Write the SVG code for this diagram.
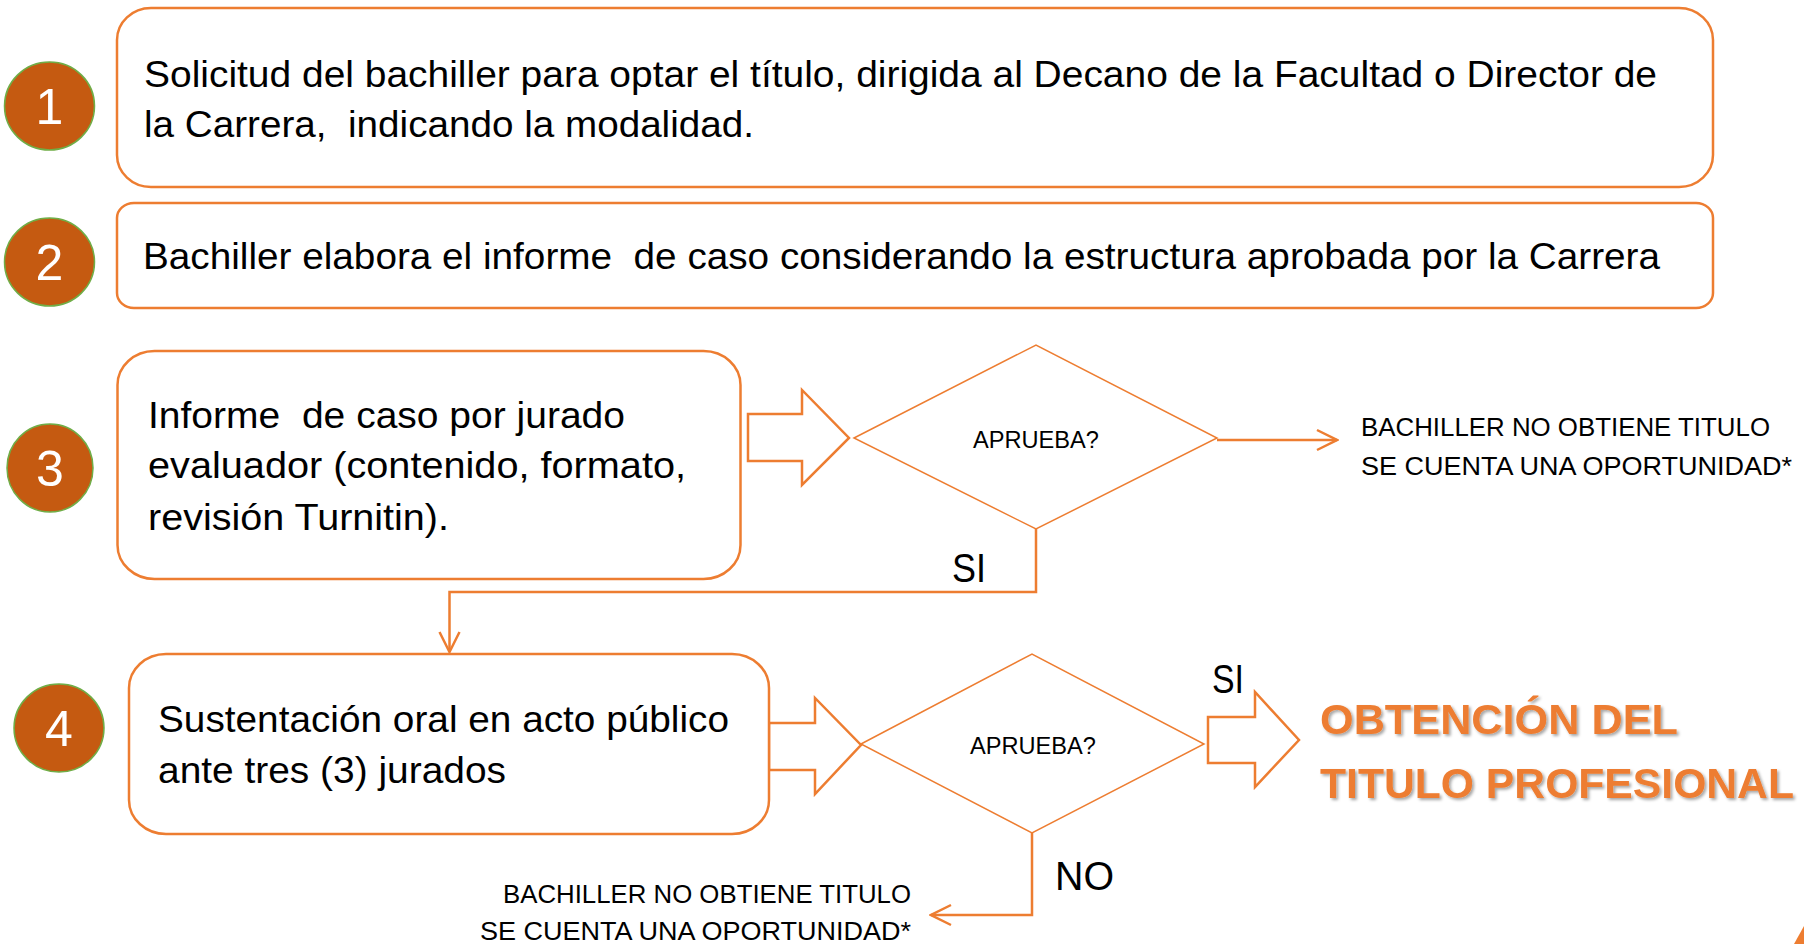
<svg xmlns="http://www.w3.org/2000/svg" width="1804" height="944" viewBox="0 0 1804 944">
<defs>
<style>
.box{fill:#fff;stroke:#ED7D31;stroke-width:2.5}
.dia{fill:#fff;stroke:#ED7D31;stroke-width:1.5}
.blk{fill:#fff;stroke:#ED7D31;stroke-width:2.5;stroke-linejoin:miter}
.con{fill:none;stroke:#ED7D31;stroke-width:2.5}
.num{fill:#C55A11;stroke:#70AD47;stroke-width:1.5}
.numt{font-family:"Liberation Sans",Arial,sans-serif;font-size:50px;fill:#fff;text-anchor:middle}
.t{font-family:"Liberation Sans",Arial,sans-serif;font-size:36px;fill:#000}
.s{font-family:"Liberation Sans",Arial,sans-serif;font-size:25px;fill:#000}
.q{font-family:"Liberation Sans",Arial,sans-serif;font-size:23px;fill:#000;text-anchor:middle}
.lbl{font-family:"Liberation Sans",Arial,sans-serif;font-size:41px;fill:#000}
.big{font-family:"Liberation Sans",Arial,sans-serif;font-size:43px;font-weight:bold;fill:#ED7D31}
</style>
<marker id="open" viewBox="0 0 24 24" markerWidth="24" markerHeight="24" refX="22" refY="12" orient="auto" markerUnits="userSpaceOnUse">
<path d="M2,2 L22,12 L2,22" fill="none" stroke="#ED7D31" stroke-width="2.5"/>
</marker>
<filter id="sh" x="-2%" y="-20%" width="103%" height="140%">
<feDropShadow dx="2" dy="2" stdDeviation="1.5" flood-color="#000" flood-opacity="0.35"/>
</filter>
</defs>
<rect width="1804" height="944" fill="#fff"/>

<g id="connectors">
<path class="con" d="M1217,440 H1337" marker-end="url(#open)"/>
<path class="con" d="M1036,529 V592 H449.5 V652" marker-end="url(#open)"/>
<path class="con" d="M1032,833 V915 H931" marker-end="url(#open)"/>
<polygon class="blk" points="748,414 802,414 802,390 849,438 802,485 802,461 748,461"/>
<polygon class="blk" points="769,723 815,723 815,698 861,745 815,794 815,770 769,770"/>
<polygon class="blk" points="1208,717 1255,717 1255,692 1299,740 1255,787 1255,763 1208,763"/>
</g>

<g id="step1">
<ellipse class="num" cx="49.5" cy="106" rx="45" ry="44"/>
<text class="numt" x="49.5" y="124">1</text>
<rect class="box" x="117" y="8" width="1596" height="179" rx="34" ry="32"/>
<text class="t" x="144" y="87" textLength="1513" lengthAdjust="spacingAndGlyphs">Solicitud del bachiller para optar el título, dirigida al Decano de la Facultad o Director de</text>
<text class="t" x="144" y="137" textLength="610" lengthAdjust="spacingAndGlyphs" xml:space="preserve">la Carrera,  indicando la modalidad.</text>
</g>

<g id="step2">
<ellipse class="num" cx="49.5" cy="262" rx="45" ry="44"/>
<text class="numt" x="49.5" y="280">2</text>
<rect class="box" x="117" y="203" width="1596" height="105" rx="17" ry="15"/>
<text class="t" x="143" y="269" textLength="1517" lengthAdjust="spacingAndGlyphs" xml:space="preserve">Bachiller elabora el informe  de caso considerando la estructura aprobada por la Carrera</text>
</g>

<g id="step3">
<ellipse class="num" cx="50" cy="468" rx="43" ry="44"/>
<text class="numt" x="50" y="486">3</text>
<rect class="box" x="117.5" y="351" width="623" height="228" rx="37" ry="34"/>
<text class="t" x="148" y="428" textLength="477" lengthAdjust="spacingAndGlyphs" xml:space="preserve">Informe  de caso por jurado</text>
<text class="t" x="148" y="478" textLength="538" lengthAdjust="spacingAndGlyphs">evaluador (contenido, formato,</text>
<text class="t" x="148" y="530" textLength="301" lengthAdjust="spacingAndGlyphs">revisión Turnitin).</text>
</g>

<g id="decision1">
<polygon class="dia" points="854,438 1036,345 1217,438 1036,529"/>
<text class="q" x="1036" y="448" textLength="126" lengthAdjust="spacingAndGlyphs">APRUEBA?</text>
</g>

<g id="fail1">
<text class="s" x="1361" y="436" textLength="409" lengthAdjust="spacingAndGlyphs">BACHILLER NO OBTIENE TITULO</text>
<text class="s" x="1361" y="475" textLength="431" lengthAdjust="spacingAndGlyphs">SE CUENTA UNA OPORTUNIDAD*</text>
</g>

<g id="labels">
<text class="lbl" x="952" y="582" textLength="34" lengthAdjust="spacingAndGlyphs">SI</text>
<text class="lbl" x="1212" y="693" textLength="32" lengthAdjust="spacingAndGlyphs">SI</text>
<text class="lbl" x="1055" y="890" textLength="59" lengthAdjust="spacingAndGlyphs">NO</text>
</g>

<g id="step4">
<ellipse class="num" cx="59" cy="728" rx="45" ry="44"/>
<text class="numt" x="59" y="746">4</text>
<rect class="box" x="129" y="654" width="640" height="180" rx="37" ry="34"/>
<text class="t" x="158" y="732" textLength="571" lengthAdjust="spacingAndGlyphs">Sustentación oral en acto público</text>
<text class="t" x="158" y="783" textLength="348" lengthAdjust="spacingAndGlyphs">ante tres (3) jurados</text>
</g>

<g id="decision2">
<polygon class="dia" points="861,744 1032,654 1204,744 1032,833"/>
<text class="q" x="1033" y="754" textLength="126" lengthAdjust="spacingAndGlyphs">APRUEBA?</text>
</g>

<g id="result">
<text class="big" x="1320" y="734" textLength="358" lengthAdjust="spacingAndGlyphs" filter="url(#sh)">OBTENCIÓN DEL</text>
<text class="big" x="1320" y="798" textLength="474" lengthAdjust="spacingAndGlyphs" filter="url(#sh)">TITULO PROFESIONAL</text>
</g>

<g id="fail2">
<text class="s" x="911" y="903" text-anchor="end" textLength="408" lengthAdjust="spacingAndGlyphs">BACHILLER NO OBTIENE TITULO</text>
<text class="s" x="911" y="940" text-anchor="end" textLength="431" lengthAdjust="spacingAndGlyphs">SE CUENTA UNA OPORTUNIDAD*</text>
</g>

<polygon points="1794,944 1804,926 1804,944" fill="#ED7D31"/>
</svg>
